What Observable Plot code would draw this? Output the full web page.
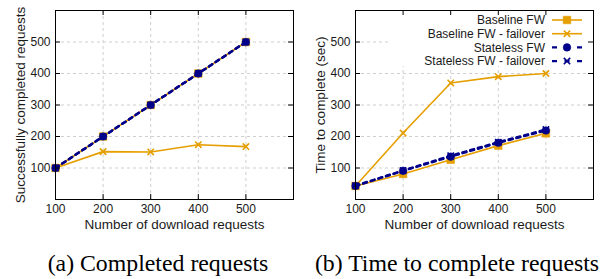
<!DOCTYPE html>
<html>
<head>
<meta charset="utf-8">
<script src="https://cdn.jsdelivr.net/npm/d3@7"></script>
<script src="https://cdn.jsdelivr.net/npm/@observablehq/plot@0.6"></script>
<style>
  html, body { margin: 0; padding: 0; background: #fff; }
  #wrap { position: relative; width: 605px; height: 279px; overflow: hidden; }
  #left { position: absolute; left: 0; top: 0; }
  #right { position: absolute; left: 300px; top: 0; }
  .cap { position: absolute; top: 252px; font-family: "Liberation Serif", "Times New Roman", serif; font-size: 23.8px; line-height: 23.8px; color: #000; white-space: nowrap; transform: translateX(-50%); }
</style>
</head>
<body>
<div id="wrap">
  <div id="left"></div>
  <div id="right"></div>
  <div class="cap" id="capA" style="left:158px">(a) Completed requests</div>
  <div class="cap" id="capB" style="left:457px">(b) Time to complete requests</div>
</div>
<script>
// ---- data ----
const requests = [100, 200, 300, 400, 500];
const xTicks = [100, 200, 300, 400, 500];
const yTicks = [100, 200, 300, 400, 500];
const seriesNames = ["Baseline FW", "Baseline FW - failover", "Stateless FW", "Stateless FW - failover"];
const completedBaseline = [100, 200, 300, 400, 500];
const completedBaselineFailover = [100, 152, 151, 174, 168];
const completedStateless = [100, 200, 300, 400, 500];
const completedStatelessFailover = [100, 200, 300, 400, 500];
const timeBaseline = [43, 81, 126, 171, 210];
const timeBaselineFailover = [43, 211, 370, 390, 400];
const timeStateless = [43, 91, 136, 180, 219];
const timeStatelessFailover = [44, 92, 139, 182, 222];
const xLabel = "Number of download requests";
const yLabelA = "Successfully completed requests";
const yLabelB = "Time to complete (sec)";

// ---- styles ----
const ORANGE = "#e69f00";
const NAVY = "#00008b";
const styles = [
  {color: ORANGE, dash: null, width: 1.6, symbol: "square", r: 4.3, filled: true},
  {color: ORANGE, dash: null, width: 1.6, symbol: "times", r: 3.0, filled: false},
  {color: NAVY, dash: "4,4", width: 2.4, symbol: "circle", r: 3.8, filled: true},
  {color: NAVY, dash: "4,4", width: 2.4, symbol: "times", r: 3.0, filled: false}
];

const H = 240, MT = 10, MB = 41, ML = 55;
const TICK = 5;

function legendMark(index, scales, values, dimensions) {
  const {width, marginRight, marginTop} = dimensions;
  const right = width - marginRight;
  const g = d3.create("svg:g");
  g.append("rect").attr("x", right - 205).attr("y", marginTop + 1)
    .attr("width", 204).attr("height", 55).attr("fill", "#fff");
  seriesNames.forEach((name, i) => {
    const s = styles[i];
    const cy = marginTop + 10 + i * 13.7;
    g.append("text").attr("x", right - 48).attr("y", cy).attr("dy", "0.35em")
      .attr("text-anchor", "end").attr("font-size", 12).attr("fill", "#1a1a1a").text(name);
    g.append("line").attr("x1", right - 41).attr("x2", right - 11).attr("y1", cy).attr("y2", cy)
      .attr("stroke", s.color).attr("stroke-width", s.width)
      .attr("stroke-dasharray", s.dash ? "5,7.5" : null);
    const sym = s.symbol === "square" ? d3.symbolSquare : s.symbol === "circle" ? d3.symbolCircle : d3.symbolTimes;
    g.append("path").attr("transform", `translate(${right - 26},${cy})`)
      .attr("d", d3.symbol(sym, Math.PI * s.r * s.r)())
      .attr("fill", s.filled ? s.color : "none")
      .attr("stroke", s.color).attr("stroke-width", s.filled ? 0.5 : 1.6);
  });
  return g.node();
}

function panel({width, marginRight, yLabel, series, legend}) {
  const innerW = width - ML - marginRight;
  const innerH = H - MT - MB;
  const marks = [
    Plot.gridX(xTicks, {stroke: "#cfcfcf", strokeOpacity: 1, strokeDasharray: "3,3"}),
    Plot.gridY(yTicks, {stroke: "#cfcfcf", strokeOpacity: 1, strokeDasharray: "3,3"})
  ];
  if (legend) marks.push(legendMark);
  series.forEach((vals, si) => {
    const s = styles[si];
    const rows = requests.map((x, i) => ({x, y: vals[i]}));
    marks.push(Plot.line(rows, {x: "x", y: "y", stroke: s.color, strokeWidth: s.width, strokeDasharray: s.dash}));
    marks.push(Plot.dot(rows, {x: "x", y: "y", symbol: s.symbol, r: s.r,
      fill: s.filled ? s.color : "none", stroke: s.color, strokeWidth: s.filled ? 0.5 : 1.6}));
  });
  marks.push(
    Plot.frame({stroke: "#000", strokeWidth: 1}),
    Plot.tickX(xTicks, {x: d => d, insetTop: innerH - TICK, stroke: "#000"}),
    Plot.tickX(xTicks, {x: d => d, insetBottom: innerH - TICK, stroke: "#000"}),
    Plot.tickY(yTicks, {y: d => d, insetRight: innerW - TICK, stroke: "#000"}),
    Plot.tickY(yTicks, {y: d => d, insetLeft: innerW - TICK, stroke: "#000"}),
    Plot.axisX(xTicks, {tickSize: 0, tickPadding: 5, label: null, fontSize: 12}),
    Plot.axisY(yTicks, {tickSize: 0, tickPadding: 5, label: null, fontSize: 12}),
    Plot.text([xLabel], {text: d => d, frameAnchor: "bottom", dy: 29, fontSize: 13.5, fill: "#1a1a1a"}),
    Plot.text([yLabel], {text: d => d, frameAnchor: "left", dx: -35, rotate: -90, textAnchor: "middle", fontSize: 13.5, fill: "#1a1a1a"})
  );
  return Plot.plot({
    width, height: H,
    marginLeft: ML, marginRight, marginTop: MT, marginBottom: MB,
    style: {fontFamily: "'Liberation Sans', Arial, sans-serif", fontSize: "12px", color: "#1a1a1a", background: "transparent"},
    x: {domain: [100, 600], label: null},
    y: {domain: [0, 600], label: null},
    marks
  });
}

document.getElementById("left").append(panel({
  width: 300, marginRight: 7, yLabel: yLabelA,
  series: [completedBaseline, completedBaselineFailover, completedStateless, completedStatelessFailover],
  legend: false
}));
document.getElementById("right").append(panel({
  width: 305, marginRight: 12, yLabel: yLabelB,
  series: [timeBaseline, timeBaselineFailover, timeStateless, timeStatelessFailover],
  legend: true
}));
</script>
</body>
</html>
